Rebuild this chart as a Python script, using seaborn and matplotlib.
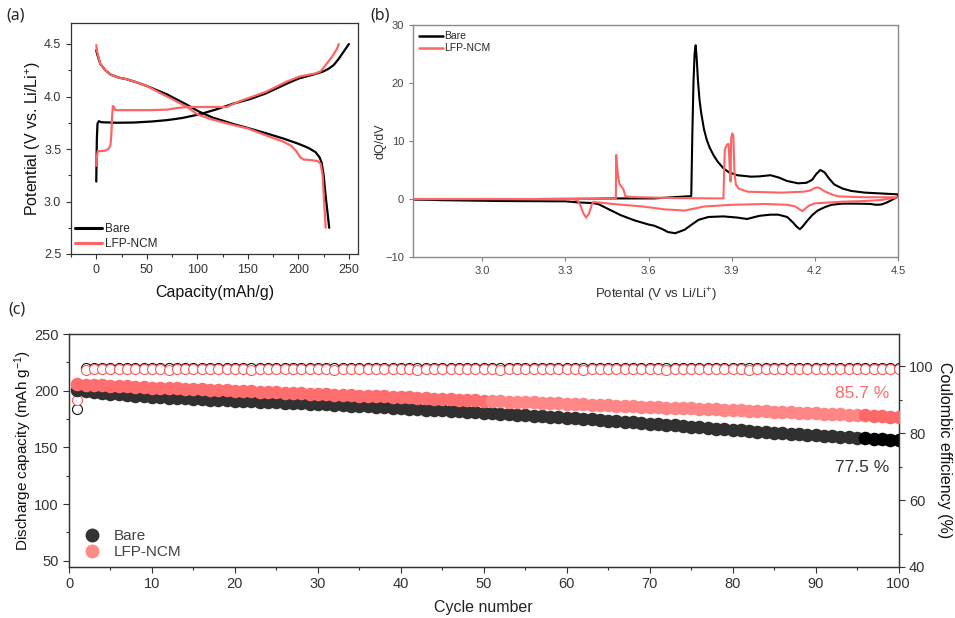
import numpy as np
import pandas as pd
import matplotlib
matplotlib.use("Agg")
import matplotlib.pyplot as plt
import seaborn as sns
from matplotlib.ticker import MultipleLocator
from matplotlib.lines import Line2D

sns.set_style("ticks")
plt.rcParams["font.family"] = ["Liberation Sans", "DejaVu Sans"]
plt.rcParams["mathtext.fontset"] = "custom"
plt.rcParams["mathtext.rm"] = "Liberation Sans"
plt.rcParams["mathtext.it"] = "Liberation Sans:italic"

# ---------------- (a) charge / discharge profiles ----------------
bare_chg_cap = [0, 0.2, 0.6, 1.2, 2.5, 5, 20, 37, 55, 70, 85, 102, 118, 135, 152, 168, 188, 200, 217, 225, 230, 235, 240, 245, 250]
bare_chg_v = [3.19, 3.35, 3.6, 3.74, 3.765, 3.755, 3.75, 3.752, 3.762, 3.775, 3.795, 3.83, 3.875, 3.93, 3.975, 4.03, 4.12, 4.17, 4.215, 4.24, 4.265, 4.3, 4.36, 4.43, 4.5]
bare_dis_cap = [0, 1, 4, 9, 14, 22, 30, 40, 50, 60, 70, 80, 90, 102, 115, 135, 150, 168, 185, 200, 210, 217, 221, 223, 225, 227, 229, 230.5]
bare_dis_v = [4.44, 4.4, 4.31, 4.25, 4.21, 4.18, 4.165, 4.135, 4.1, 4.06, 4.02, 3.97, 3.92, 3.855, 3.8, 3.74, 3.70, 3.65, 3.6, 3.55, 3.51, 3.47, 3.42, 3.37, 3.25, 3.05, 2.88, 2.75]
lfp_chg_cap = [0, 0.5, 1.5, 5, 9, 12, 14, 15, 15.6, 16.4, 17.5, 19, 30, 53, 70, 80, 90, 102, 115, 129, 142, 155, 168, 188, 201, 217, 222, 227, 231, 234, 238.5, 240]
lfp_chg_v = [3.34, 3.42, 3.48, 3.48, 3.485, 3.5, 3.53, 3.65, 3.8, 3.91, 3.9, 3.87, 3.87, 3.87, 3.875, 3.89, 3.9, 3.9, 3.9, 3.9, 3.955, 4.0, 4.045, 4.14, 4.19, 4.22, 4.24, 4.3, 4.35, 4.39, 4.46, 4.5]
lfp_dis_cap = [0, 1, 4, 9, 14, 22, 30, 40, 50, 60, 70, 80, 90, 100, 115, 135, 150, 168, 185, 193, 198, 202, 205, 212, 219, 222, 224, 225.5, 227]
lfp_dis_v = [4.49, 4.42, 4.31, 4.25, 4.21, 4.18, 4.165, 4.135, 4.1, 4.05, 4.0, 3.95, 3.9, 3.83, 3.78, 3.73, 3.695, 3.63, 3.57, 3.53, 3.48, 3.42, 3.40, 3.395, 3.385, 3.36, 3.25, 3.0, 2.75]

# ---------------- (b) dQ/dV ----------------
bare_dqdv_v = [3.20, 3.40, 3.49, 3.62, 3.754, 3.756, 3.758, 3.762, 3.766, 3.77, 3.774, 3.778, 3.784, 3.79, 3.80, 3.81, 3.82,
               3.835, 3.85, 3.87, 3.89, 3.92, 3.97, 4.0, 4.04, 4.07, 4.10, 4.14, 4.17, 4.19, 4.205, 4.22, 4.235, 4.25,
               4.27, 4.30, 4.33, 4.38, 4.44, 4.50,
               4.50, 4.48, 4.46, 4.44, 4.42, 4.40, 4.35, 4.30, 4.26, 4.236, 4.21, 4.19, 4.17, 4.155, 4.146, 4.135, 4.12,
               4.10, 4.068, 4.04, 4.0, 3.955, 3.92, 3.87, 3.816, 3.78, 3.756, 3.73, 3.696, 3.67, 3.65, 3.62, 3.60,
               3.55, 3.50, 3.449, 3.42, 3.40, 3.35, 3.30, 3.07, 2.85, 2.82, 2.75]
bare_dqdv_y = [0.0, 0.05, 0.1, 0.1, 0.5, 6.0, 11.4, 20.0, 25.0, 26.5, 24.0, 20.5, 17.0, 14.8, 12.0, 10.2, 8.9,
               7.5, 6.4, 5.3, 4.6, 4.1, 3.85, 3.9, 4.1, 3.7, 3.1, 2.7, 2.8, 3.3, 4.3, 5.0, 4.6, 3.6,
               2.5, 1.8, 1.4, 1.1, 0.95, 0.8,
               0.4, -0.1, -0.6, -0.95, -1.0, -0.85, -0.8, -0.8, -1.0, -1.4, -2.0, -2.8, -3.9, -4.8, -5.2, -4.8, -4.0,
               -3.1, -2.7, -2.7, -2.9, -3.45, -3.2, -3.0, -3.1, -3.6, -4.4, -5.3, -5.9, -5.7, -5.2, -4.6, -4.4,
               -3.7, -2.8, -1.6, -0.9, -0.7, -0.6, -0.4, -0.35, -0.2, -0.15, -0.1]
lfp_dqdv_v = [2.75, 3.30, 3.482, 3.483, 3.49, 3.495, 3.51, 3.516, 3.54, 3.61, 3.70, 3.87, 3.875, 3.883, 3.889, 3.893, 3.896,
              3.898, 3.902, 3.906, 3.91, 3.915, 3.925, 3.957, 4.0, 4.08, 4.16, 4.185, 4.20, 4.21, 4.22, 4.236, 4.26, 4.284,
              4.38, 4.50,
              4.44, 4.38, 4.30, 4.20, 4.18, 4.165, 4.155, 4.145, 4.13, 4.10, 4.02, 3.90, 3.80, 3.76, 3.73, 3.70, 3.66,
              3.58, 3.48, 3.40, 3.395, 3.385, 3.375, 3.365, 3.355, 3.345, 3.33, 2.75]
lfp_dqdv_y = [0.0, 0.0, 0.05, 7.6, 3.8, 2.6, 1.6, 0.5, 0.35, 0.25, 0.15, 0.1, 8.5, 9.4, 9.5, 5.0, 3.0,
              10.5, 11.3, 10.8, 4.5, 2.5, 1.8, 1.26, 1.2, 1.1, 1.26, 1.5, 1.9, 2.0, 1.8, 1.3, 0.8, 0.45,
              0.3, 0.3,
              -0.17, -0.35, -0.46, -0.75, -1.1, -1.7, -2.1, -1.8, -1.3, -1.0, -0.86, -1.0, -1.3, -1.7, -2.0, -1.9, -1.8,
              -1.3, -0.9, -0.5, -1.0, -2.5, -3.2, -2.5, -1.2, -0.3, -0.05, 0.0]

# ---------------- (c) cycling ----------------
cycles = list(range(1, 101))
bare_capacity = [201.0, 199.5, 198.6, 197.9, 197.3, 196.7, 196.1, 195.6, 195.1, 194.6,
                 194.2, 193.9, 193.5, 193.2, 192.8, 192.5, 192.2, 191.9, 191.6, 191.3,
                 191.0, 190.7, 190.4, 190.1, 189.8, 189.5, 189.2, 188.9, 188.6, 188.3,
                 187.9, 187.6, 187.2, 186.8, 186.5, 186.1, 185.7, 185.4, 185.0, 184.6,
                 184.2, 183.8, 183.4, 183.0, 182.6, 182.2, 181.8, 181.4, 181.0, 180.6,
                 180.2, 179.8, 179.4, 179.0, 178.5, 178.1, 177.7, 177.2, 176.8, 176.3,
                 175.8, 175.3, 174.8, 174.2, 173.7, 173.2, 172.6, 172.1, 171.5, 171.0,
                 170.4, 169.9, 169.3, 168.8, 168.2, 167.7, 167.1, 166.6, 166.0, 165.5,
                 165.0, 164.5, 164.0, 163.5, 163.0, 162.5, 162.0, 161.5, 161.0, 160.5,
                 160.1, 159.7, 159.3, 158.9, 158.5, 158.1, 157.7, 157.3, 156.9, 156.5]
lfp_capacity = [206.0, 205.4, 205.0, 204.6, 204.3, 204.0, 203.7, 203.4, 203.1, 202.8,
                202.5, 202.3, 202.0, 201.7, 201.5, 201.2, 200.9, 200.7, 200.4, 200.1,
                199.8, 199.5, 199.2, 198.9, 198.7, 198.4, 198.1, 197.8, 197.5, 197.2,
                196.9, 196.6, 196.3, 196.0, 195.7, 195.5, 195.2, 194.9, 194.6, 194.3,
                194.0, 193.7, 193.4, 193.1, 192.8, 192.5, 192.2, 191.9, 191.6, 191.2,
                190.9, 190.6, 190.4, 190.1, 189.8, 189.6, 189.3, 189.0, 188.8, 188.5,
                188.2, 187.9, 187.6, 187.3, 187.0, 186.8, 186.5, 186.2, 185.9, 185.6,
                185.4, 185.1, 184.9, 184.6, 184.4, 184.1, 183.9, 183.6, 183.4, 183.1,
                182.8, 182.5, 182.2, 181.9, 181.6, 181.3, 181.0, 180.7, 180.4, 180.1,
                179.8, 179.5, 179.2, 178.9, 178.6, 178.2, 177.9, 177.5, 177.2, 176.8]
bare_ce = [87.2] + [99.4, 99.5, 99.5, 99.4, 99.5, 99.5, 99.5, 99.4, 99.5, 99.5] * 9 + [99.5, 99.4, 99.5, 99.5, 99.5, 99.4, 99.5, 99.5, 99.5]
lfp_ce = [89.9] + [99.0, 99.1, 99.2, 99.2, 99.2, 99.2, 99.3, 99.2, 99.2, 99.2] * 9 + [99.2, 99.2, 99.3, 99.2, 99.2, 99.2, 99.2, 99.3, 99.2]

labels = ["Bare", "LFP-NCM"]
BLACK = "#000000"
RED = "#ff6464"

fig = plt.figure(figsize=(9.55, 6.18), dpi=100)
W, H = 955, 618
def axrect(l, t, r, b):
    return [l / W, 1 - b / H, (r - l) / W, (b - t) / H]

# ---------------- panel (a) ----------------
axa = fig.add_axes(axrect(71, 23, 358, 254))
dfa = pd.concat([
    pd.DataFrame({"cap": bare_chg_cap, "V": bare_chg_v, "s": "Bare", "b": "Bare-c"}),
    pd.DataFrame({"cap": bare_dis_cap, "V": bare_dis_v, "s": "Bare", "b": "Bare-d"}),
    pd.DataFrame({"cap": lfp_chg_cap, "V": lfp_chg_v, "s": "LFP-NCM", "b": "LFP-c"}),
    pd.DataFrame({"cap": lfp_dis_cap, "V": lfp_dis_v, "s": "LFP-NCM", "b": "LFP-d"}),
])
sns.lineplot(data=dfa, x="cap", y="V", hue="s", units="b", estimator=None, sort=False,
             palette={"Bare": BLACK, "LFP-NCM": RED}, linewidth=1.6, ax=axa, legend=False)
axa.set_xlim(-25, 259)
axa.set_ylim(2.5, 4.7)
axa.xaxis.set_major_locator(MultipleLocator(50))
axa.xaxis.set_minor_locator(MultipleLocator(25))
axa.yaxis.set_major_locator(MultipleLocator(0.5))
axa.yaxis.set_minor_locator(MultipleLocator(0.25))
axa.tick_params(which="both", direction="out", colors="#333333", labelsize=9, width=0.8)
axa.tick_params(which="major", length=3.5)
axa.tick_params(which="minor", length=2)
for sp in axa.spines.values():
    sp.set_color("#333333"); sp.set_linewidth(0.9)
axa.set_xlabel("Capacity(mAh/g)", fontsize=11.5, color="#111111", labelpad=7)
axa.set_ylabel("Potential (V vs. Li/Li$^{+}$)", fontsize=11.5, color="#111111", labelpad=1)
ha = [Line2D([], [], color=BLACK, lw=2.2), Line2D([], [], color=RED, lw=2.2)]
axa.legend(ha, labels, loc="lower left", frameon=False, fontsize=8.5, handlelength=2.3,
           handletextpad=0.3, borderaxespad=0.1, labelspacing=0.3, borderpad=0.2)

# ---------------- panel (b) ----------------
axb = fig.add_axes(axrect(413, 25, 898, 257))
dfb = pd.concat([
    pd.DataFrame({"V": bare_dqdv_v, "d": bare_dqdv_y, "s": "Bare"}),
    pd.DataFrame({"V": lfp_dqdv_v, "d": lfp_dqdv_y, "s": "LFP-NCM"}),
])
sns.lineplot(data=dfb, x="V", y="d", hue="s", units="s", estimator=None, sort=False,
             palette={"Bare": BLACK, "LFP-NCM": RED}, linewidth=1.5, ax=axb, legend=False)
axb.set_xlim(2.75, 4.5)
axb.set_ylim(-10, 30)
axb.set_xticks([3.0, 3.3, 3.6, 3.9, 4.2, 4.5])
axb.set_yticks([-10, 0, 10, 20, 30])
axb.tick_params(direction="out", colors="#7f7f7f", labelcolor="#444444", labelsize=8, length=3, width=0.8)
for sp in axb.spines.values():
    sp.set_color("#8a8a8a"); sp.set_linewidth(1.0)
axb.set_xlabel("Potental (V vs Li/Li$^{+}$)", fontsize=9.5, color="#333333", labelpad=7)
axb.set_ylabel("dQ/dV", fontsize=9, color="#333333", labelpad=-1)
hb = [Line2D([], [], color=BLACK, lw=1.8), Line2D([], [], color=RED, lw=1.8)]
axb.legend(hb, labels, loc="upper left", frameon=False, fontsize=7.5, handlelength=2.3,
           handletextpad=0.1, borderaxespad=0.3, labelspacing=0.2, borderpad=0.3)

# ---------------- panel (c) ----------------
axc = fig.add_axes(axrect(69, 334, 898.5, 567))
axc2 = axc.twinx()
axc.set_zorder(axc2.get_zorder() + 1)
axc.patch.set_visible(False)

dfc = pd.DataFrame({"cycle": cycles, "bare": bare_capacity, "lfp": lfp_capacity,
                    "bce": bare_ce, "lce": lfp_ce})
# coulombic efficiency (open circles, right axis)
sns.scatterplot(data=dfc, x="cycle", y="bce", ax=axc2, s=52, facecolor="white",
                edgecolor="#111111", linewidth=0.8, legend=False, zorder=2)
sns.scatterplot(data=dfc, x="cycle", y="lce", ax=axc2, s=52, facecolor="white",
                edgecolor="#ff5a5a", linewidth=0.8, legend=False, zorder=3)

# discharge capacity (filled circles)
seg_b = [(dfc.cycle <= 95, "#303030"), (dfc.cycle > 95, "#000000")]
seg_l = [(dfc.cycle <= 50, "#ff6e6e"), ((dfc.cycle > 50) & (dfc.cycle <= 95), "#ff8686"), (dfc.cycle > 95, "#ff6868")]
for m, c in seg_b:
    sns.scatterplot(data=dfc[m], x="cycle", y="bare", ax=axc, s=95, color=c,
                    edgecolor=c, linewidth=0.0, legend=False, zorder=2)
for m, c in seg_l:
    sns.scatterplot(data=dfc[m], x="cycle", y="lfp", ax=axc, s=95, color=c,
                    edgecolor=c, linewidth=0.0, legend=False, zorder=3)

axc.set_xlim(0, 100)
axc.set_ylim(44.5, 250)
axc2.set_ylim(40, 109.7)
axc.xaxis.set_major_locator(MultipleLocator(10))
axc.xaxis.set_minor_locator(MultipleLocator(5))
axc.yaxis.set_major_locator(MultipleLocator(50))
axc.yaxis.set_minor_locator(MultipleLocator(25))
axc2.yaxis.set_major_locator(MultipleLocator(20))
axc2.yaxis.set_minor_locator(MultipleLocator(10))
for a in (axc, axc2):
    a.tick_params(which="both", direction="out", colors="#333333", labelsize=10.5, width=0.8)
    a.tick_params(which="major", length=4)
    a.tick_params(which="minor", length=2)
    for sp in a.spines.values():
        sp.set_color("#333333"); sp.set_linewidth(0.9)
axc.set_xlabel("Cycle number", fontsize=11.5, color="#222222", labelpad=6)
axc.set_ylabel("Discharge capacity (mAh g$^{-1}$)", fontsize=11, color="#111111", labelpad=0)
axc2.set_ylabel("Coulombic efficiency (%)", fontsize=11.5, color="#111111", rotation=270, labelpad=13)

axc.text(95.6, 197.3, "85.7 %", color="#ff6b6b", fontsize=12.5, ha="center", va="center")
axc.text(95.6, 132.0, "77.5 %", color="#333333", fontsize=12.5, ha="center", va="center")

hc = [Line2D([], [], ls="", marker="o", ms=9, mfc="#333333", mec="#333333"),
      Line2D([], [], ls="", marker="o", ms=9, mfc="#ff8a8a", mec="#ff8a8a")]
axc.legend(hc, labels, loc="lower left", frameon=False, fontsize=11, handletextpad=0.4,
           borderaxespad=0.2, labelspacing=0.15, borderpad=0.3, labelcolor="#444444")

# panel letters
fig.text(6 / W, 1 - 16 / H, "(a)", fontsize=11.5, va="center", ha="left", family=["Noto Sans", "DejaVu Sans"])
fig.text(370 / W, 1 - 16 / H, "(b)", fontsize=11.5, va="center", ha="left", family=["Noto Sans", "DejaVu Sans"])
fig.text(8 / W, 1 - 310 / H, "(c)", fontsize=11.5, va="center", ha="left", family=["Noto Sans", "DejaVu Sans"])

fig.savefig("out.png", dpi=100)
